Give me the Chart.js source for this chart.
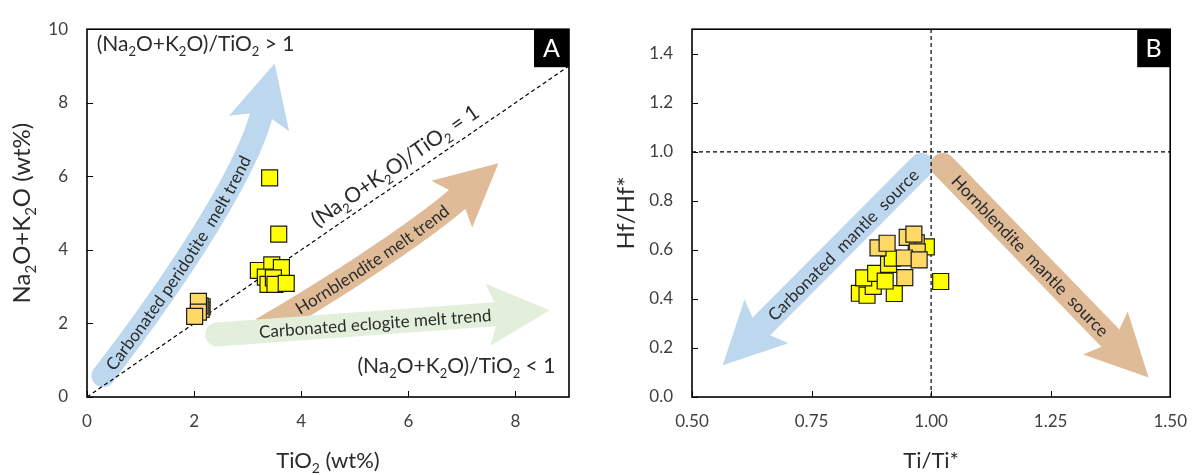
<!DOCTYPE html>
<html>
<head>
<meta charset="utf-8">
<script src="https://cdn.jsdelivr.net/npm/chart.js@4.4.1/dist/chart.umd.min.js"></script>
<style>
  body { margin: 0; background: #fff; }
  .panel { position: absolute; top: 0; }
  #panel-a { left: 0; }
  #panel-b { left: 600px; }
</style>
</head>
<body>
<div class="panel" id="panel-a"><canvas id="chart-a" width="600" height="475"></canvas></div>
<div class="panel" id="panel-b"><canvas id="chart-b" width="601" height="475"></canvas></div>
<script>
// ---- panel A: TiO2 vs Na2O+K2O ----
const tioYellow = [3.41, 3.58, 3.20, 3.45, 3.63, 3.33, 3.38, 3.48, 3.51, 3.72];
const alkYellow = [5.96, 4.43, 3.44, 3.59, 3.52, 3.26, 3.06, 3.24, 3.06, 3.09];
const tioOrange = [2.15, 2.13, 2.11, 2.08, 2.08, 2.01];
const alkOrange = [2.45, 2.38, 2.48, 2.60, 2.31, 2.19];
const ratioLineX = [0, 9];
const ratioLineY = [0, 9];
const ticksAx = [0, 2, 4, 6, 8];
const ticksAy = [0, 2, 4, 6, 8, 10];

// ---- panel B: Ti/Ti* vs Hf/Hf* ----
const tiYellow = [1.020, 0.850, 0.866, 0.923, 0.879, 0.859, 0.884, 0.911, 0.904, 0.990, 0.919];
const hfYellow = [0.471, 0.423, 0.415, 0.422, 0.451, 0.486, 0.504, 0.541, 0.473, 0.612, 0.566];
const tiOrange = [0.889, 0.908, 0.969, 0.950, 0.964, 0.971, 0.944, 0.975, 0.945];
const hfOrange = [0.608, 0.627, 0.629, 0.651, 0.664, 0.592, 0.567, 0.559, 0.487];
const unitLineX = [1, 1];
const unitLineY = [0, 1.5];
const hLineX = [0.5, 1.5];
const hLineY = [1, 1];
const ticksBx = [0.5, 0.75, 1, 1.25, 1.5];
const labelsBx = ["0.50", "0.75", "1.00", "1.25", "1.50"];
const ticksBy = [0, 0.2, 0.4, 0.6, 0.8, 1.0, 1.2, 1.4];
const labelsBy = ["0.0", "0.2", "0.4", "0.6", "0.8", "1.0", "1.2", "1.4"];

const FONT = "Lato, 'Open Sans', sans-serif";
const TEXT = "#2b2b2b";
const YELLOW = "#FFFF00";
const ORANGE = "#FFD966";
const BLUE = "#BDD7EE";
const TAN = "#DFBB98";
const GREEN = "#E2EFDA";
const HEAD = { len: 62, half: 31, notch: 12 };

const pts = (xs, ys) => xs.map((x, i) => ({ x, y: ys[i] }));

// arrows, notes and titles for each panel (kept outside chart options so
// Chart.js does not wrap them in its option resolver)
const decorations = {
  "chart-a": {
    letter: "A",
    boxW: 35,
    xTitle: "TiO_2 (wt%)",
    yTitle: "Na_2O+K_2O (wt%)",
    yTitleX: 22,
    arrows: [
      { color: BLUE, width: 23, round: true, path: [[0.30, 0.58], [1.36, 2.57], [2.97, 5.94], [3.27, 7.75]],
        text: "Carbonated peridotite  melt trend", textStart: 10, size: 17 },
      { color: TAN, width: 25, round: false, path: [[3.27, 1.83], [4.24, 2.63], [6.15, 4.39], [6.98, 5.46]],
        text: "Hornblendite melt trend", textStart: 40, size: 17 },
      { color: GREEN, width: 24, round: true, path: [[2.43, 1.70], [7.71, 2.26]],
        text: "Carbonated eclogite melt trend", textStart: 42, size: 17 },
    ],
    notes: [
      { text: "(Na_2O+K_2O)/TiO_2 > 1", at: [0.18, 9.6], size: 21, align: "left" },
      { text: "(Na_2O+K_2O)/TiO_2 = 1", at: [5.75, 6.29], size: 21, align: "center", alongUnit: true },
      { text: "(Na_2O+K_2O)/TiO_2 < 1", at: [5.05, 0.84], size: 21, align: "left" },
    ],
  },
  "chart-b": {
    letter: "B",
    boxW: 33,
    xTitle: "Ti/Ti*",
    yTitle: "Hf/Hf*",
    yTitleX: 26,
    arrows: [
      { color: BLUE, width: 25, round: true, path: [[0.980, 0.944], [0.638, 0.274]],
        text: "Carbonated  mantle  source", reverse: true, textCenter: 120, size: 17 },
      { color: TAN, width: 25, round: true, path: [[1.025, 0.944], [1.382, 0.226]],
        text: "Hornblendite  mantle  source", textCenter: 125, size: 17 },
    ],
    notes: [],
  },
};

// splits "Na_2O" into normal / subscript runs
function richParts(str) {
  const parts = [];
  let buf = "";
  for (let i = 0; i < str.length; i++) {
    if (str[i] === "_" && i + 1 < str.length) {
      if (buf) parts.push({ t: buf, sub: false });
      buf = "";
      parts.push({ t: str[i + 1], sub: true });
      i++;
    } else buf += str[i];
  }
  if (buf) parts.push({ t: buf, sub: false });
  return parts;
}

function drawRich(ctx, str, x, y, size, align, color) {
  const parts = richParts(str);
  const fMain = `${size}px ${FONT}`;
  const fSub = `${Math.round(size * 0.64)}px ${FONT}`;
  let total = 0;
  parts.forEach((p) => {
    ctx.font = p.sub ? fSub : fMain;
    p.w = ctx.measureText(p.t).width;
    total += p.w;
  });
  let cx = align === "center" ? x - total / 2 : align === "right" ? x - total : x;
  const base = y + size * 0.35;
  ctx.fillStyle = color;
  ctx.textAlign = "left";
  ctx.textBaseline = "alphabetic";
  parts.forEach((p) => {
    ctx.font = p.sub ? fSub : fMain;
    ctx.fillText(p.t, cx, p.sub ? base + size * 0.24 : base);
    cx += p.w;
  });
}

// samples a straight segment or a cubic bezier (pixel coords)
function samplePath(c, n = 150) {
  const out = [];
  for (let i = 0; i <= n; i++) {
    const t = i / n, m = 1 - t;
    if (c.length === 2) {
      out.push({ x: m * c[0].x + t * c[1].x, y: m * c[0].y + t * c[1].y });
    } else {
      out.push({
        x: m * m * m * c[0].x + 3 * m * m * t * c[1].x + 3 * m * t * t * c[2].x + t * t * t * c[3].x,
        y: m * m * m * c[0].y + 3 * m * m * t * c[1].y + 3 * m * t * t * c[2].y + t * t * t * c[3].y,
      });
    }
  }
  return out;
}

function walker(p) {
  const acc = [0];
  for (let i = 1; i < p.length; i++) acc.push(acc[i - 1] + Math.hypot(p[i].x - p[i - 1].x, p[i].y - p[i - 1].y));
  return {
    at(s) {
      let i = 1;
      while (i < acc.length - 1 && acc[i] < s) i++;
      const a = p[i - 1], b = p[i];
      const f = (s - acc[i - 1]) / (acc[i] - acc[i - 1] || 1);
      return { x: a.x + (b.x - a.x) * f, y: a.y + (b.y - a.y) * f, a: Math.atan2(b.y - a.y, b.x - a.x) };
    },
  };
}

function drawArrow(ctx, p, a) {
  ctx.save();
  ctx.beginPath();
  ctx.moveTo(p[0].x, p[0].y);
  for (let i = 1; i < p.length; i++) ctx.lineTo(p[i].x, p[i].y);
  ctx.lineWidth = a.width;
  ctx.strokeStyle = a.color;
  ctx.lineCap = a.round ? "round" : "butt";
  ctx.lineJoin = "round";
  ctx.stroke();

  const end = p[p.length - 1], prev = p[p.length - 4];
  const d = Math.hypot(end.x - prev.x, end.y - prev.y);
  const dx = (end.x - prev.x) / d, dy = (end.y - prev.y) / d;
  const bx = end.x - dx * HEAD.notch, by = end.y - dy * HEAD.notch;
  ctx.beginPath();
  ctx.moveTo(bx + dx * HEAD.len, by + dy * HEAD.len);
  ctx.lineTo(bx - dy * HEAD.half, by + dx * HEAD.half);
  ctx.lineTo(end.x, end.y);
  ctx.lineTo(bx + dy * HEAD.half, by - dx * HEAD.half);
  ctx.closePath();
  ctx.fillStyle = a.color;
  ctx.fill();
  ctx.restore();
}

// letters laid one by one along the arrow shaft
function drawTextOnPath(ctx, p, a) {
  const path = a.reverse ? p.slice().reverse() : p;
  const w = walker(path);
  ctx.save();
  ctx.font = `${a.size}px ${FONT}`;
  ctx.fillStyle = TEXT;
  ctx.textBaseline = "middle";
  ctx.textAlign = "left";
  const total = ctx.measureText(a.text).width;
  let s = a.textCenter !== undefined ? a.textCenter - total / 2 : a.textStart;
  for (const ch of a.text) {
    const cw = ctx.measureText(ch).width;
    const q = w.at(s + cw / 2);
    ctx.save();
    ctx.translate(q.x, q.y);
    ctx.rotate(q.a);
    ctx.fillText(ch, -cw / 2, 1);
    ctx.restore();
    s += cw;
  }
  ctx.restore();
}

const decor = {
  id: "decor",
  beforeDatasetsDraw(chart) {
    const { ctx, scales: { x, y } } = chart;
    const cfg = decorations[chart.canvas.id];
    const paths = cfg.arrows.map((a) =>
      samplePath(a.path.map(([vx, vy]) => ({ x: x.getPixelForValue(vx), y: y.getPixelForValue(vy) })))
    );
    cfg.arrows.forEach((a, i) => drawArrow(ctx, paths[i], a));
    cfg.arrows.forEach((a, i) => drawTextOnPath(ctx, paths[i], a));
  },
  afterDatasetsDraw(chart) {
    const { ctx, chartArea: ca, scales: { x, y } } = chart;
    const cfg = decorations[chart.canvas.id];
    ctx.save();
    // inner tick marks
    ctx.strokeStyle = "#000";
    ctx.lineWidth = 1;
    ctx.beginPath();
    x.ticks.forEach((t) => {
      const px = Math.round(x.getPixelForValue(t.value)) + 0.5;
      ctx.moveTo(px, ca.bottom);
      ctx.lineTo(px, ca.bottom - 6);
    });
    y.ticks.forEach((t) => {
      const py = Math.round(y.getPixelForValue(t.value)) + 0.5;
      ctx.moveTo(ca.left, py);
      ctx.lineTo(ca.left + 6, py);
    });
    ctx.stroke();
    // frame
    ctx.lineWidth = 1.6;
    ctx.strokeRect(ca.left, ca.top, ca.right - ca.left, ca.bottom - ca.top);
    // panel letter
    ctx.fillStyle = "#000";
    ctx.fillRect(ca.right - cfg.boxW, ca.top, cfg.boxW, 38);
    ctx.fillStyle = "#fff";
    ctx.font = `25px ${FONT}`;
    ctx.textAlign = "center";
    ctx.textBaseline = "middle";
    ctx.fillText(cfg.letter, ca.right - cfg.boxW / 2, ca.top + 20);
    // notes
    cfg.notes.forEach((n) => {
      ctx.save();
      ctx.translate(x.getPixelForValue(n.at[0]), y.getPixelForValue(n.at[1]));
      if (n.alongUnit) {
        ctx.rotate(Math.atan2(y.getPixelForValue(9) - y.getPixelForValue(0), x.getPixelForValue(9) - x.getPixelForValue(0)));
      }
      drawRich(ctx, n.text, 0, 0, n.size, n.align, TEXT);
      ctx.restore();
    });
    // axis titles
    drawRich(ctx, cfg.xTitle, (ca.left + ca.right) / 2, 460, 22, "center", TEXT);
    ctx.save();
    ctx.translate(cfg.yTitleX, (ca.top + ca.bottom) / 2);
    ctx.rotate(-Math.PI / 2);
    drawRich(ctx, cfg.yTitle, 0, 0, 24, "center", TEXT);
    ctx.restore();
    ctx.restore();
  },
};

function squares(data, fill) {
  return {
    data,
    backgroundColor: fill,
    borderColor: "#1a1a1a",
    borderWidth: 1.2,
    pointStyle: "rect",
    pointRadius: 11.3,
    pointHoverRadius: 11.3,
  };
}

function dashed(data) {
  return {
    type: "line",
    data,
    borderColor: "#000",
    borderWidth: 1.2,
    borderDash: [4, 3],
    pointRadius: 0,
    fill: false,
  };
}

function axis(min, max, ticks, labels, size, isY) {
  return {
    type: "linear",
    min,
    max,
    afterFit: (s) => {
      if (isY) s.width = size;
      else s.height = size;
    },
    afterBuildTicks: (s) => {
      s.ticks = ticks.map((v) => ({ value: v }));
    },
    grid: { display: false, drawTicks: false },
    border: { display: false },
    ticks: {
      padding: isY ? 19 : 14,
      color: "#404040",
      font: { family: FONT, size: 17 },
      callback: (v, i) => (labels ? labels[i] : v),
    },
  };
}

const baseOptions = {
  responsive: false,
  animation: false,
  events: [],
  plugins: { legend: { display: false }, tooltip: { enabled: false } },
};

const chartA = new Chart(document.getElementById("chart-a"), {
  type: "scatter",
  data: {
    datasets: [
      squares(pts(tioOrange, alkOrange), ORANGE),
      squares(pts(tioYellow, alkYellow), YELLOW),
      dashed(pts(ratioLineX, ratioLineY)),
    ],
  },
  options: {
    ...baseOptions,
    layout: { padding: { top: 20, right: 31, left: 0, bottom: 0 } },
    scales: {
      x: axis(0, 9, ticksAx, null, 78, false),
      y: axis(0, 10, ticksAy, null, 87, true),
    },
  },
  plugins: [decor],
});

const chartB = new Chart(document.getElementById("chart-b"), {
  type: "scatter",
  data: {
    datasets: [
      squares(pts(tiOrange, hfOrange), ORANGE),
      squares(pts(tiYellow, hfYellow), YELLOW),
      dashed(pts(unitLineX, unitLineY)),
      dashed(pts(hLineX, hLineY)),
    ],
  },
  options: {
    ...baseOptions,
    layout: { padding: { top: 20, right: 26, left: 0, bottom: 0 } },
    scales: {
      x: axis(0.5, 1.5, ticksBx, labelsBx, 78, false),
      y: axis(0, 1.5, ticksBy, labelsBy, 92, true),
    },
  },
  plugins: [decor],
});
</script>
</body>
</html>
